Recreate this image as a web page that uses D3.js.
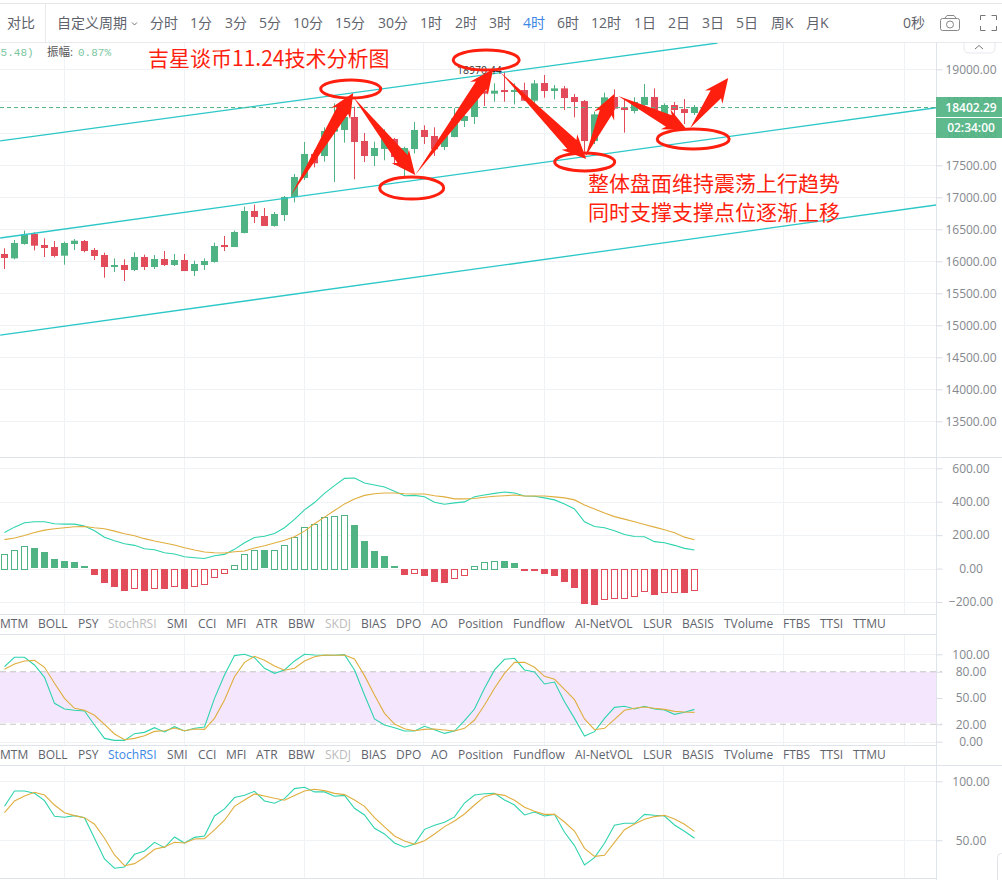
<!DOCTYPE html>
<html>
<head>
<meta charset="utf-8">
<script src="https://cdn.jsdelivr.net/npm/d3@7"></script>
<style>
  body { margin: 0; background: #fff; overflow: hidden; }
  svg { display: block; }
  text { font-family: "Open Sans", "Noto Sans CJK SC", sans-serif; }
</style>
</head>
<body>
<div id="chart"></div>
<script>
// Candles
const opens = [16114,16046,16270,16427,16255,16223,16088,16270,16317,16177,16098,15911,15942,15864,16067,15911,16036,15942,16020,15848,15942,15989,16255,16223,16442,16786,16708,16552,16723,17005,17302,17677,17645,18026,18052,18255,17880,17645,17755,17911,17630,17755,18052,17958,17786,17942,18192,18255,18666,18619,18676,18645,18676,18510,18786,18661,18702,18567,18504,17879,18286,18567,18405,18348,18442,18567,18260,18442,18379,18317];
const closes = [16052,16286,16421,16244,16208,16083,16286,16322,16161,16083,15911,15942,15864,16067,15911,16036,15942,16020,15848,15958,16005,16239,16223,16458,16786,16692,16552,16739,17005,17317,17677,17531,18036,18067,18255,17864,17645,17770,17911,17630,17770,18052,17942,17750,17958,18234,18270,18614,18619,18666,18645,18676,18510,18780,18661,18702,18551,18489,17879,18296,18562,18385,18364,18489,18567,18260,18442,18364,18317,18411];
const highs = [16203,16333,16479,16453,16359,16317,16307,16348,16333,16208,16135,16046,16031,16140,16104,16098,16161,16114,16114,16010,16046,16291,16395,16479,16854,16885,16833,16770,17020,17364,17864,17739,18093,18468,18406,18416,18005,17869,18062,17927,17791,18177,18125,18093,18000,18390,18416,18650,18833,18781,18963,18780,18791,18832,18911,18754,18739,18614,18520,18338,18635,18687,18530,18562,18770,18702,18468,18489,18535,18442];
const lows = [15880,16031,16260,16171,16067,16062,15947,16177,16140,16020,15744,15833,15692,15848,15864,15880,15927,15927,15848,15770,15864,15979,16161,16223,16437,16598,16552,16541,16630,16921,17270,17468,17557,17239,17854,17281,17552,17489,17578,17505,17333,17687,17833,17645,17739,17937,18098,18145,18427,18494,18494,18452,18504,18442,18556,18530,18364,18249,17713,17833,18260,18364,18010,18312,18364,18250,18140,18208,18145,18286];

// MACD pane
const macdHist = [89,113,137,121,97,56,44,38,14,-34,-81,-105,-129,-115,-129,-115,-117,-103,-117,-103,-91,-50,-26,24,89,113,109,113,143,190,250,268,310,315,321,258,163,103,73,14,-34,-26,-40,-75,-81,-56,-38,18,40,48,44,32,-9,-10,-28,-40,-75,-111,-212,-218,-181,-175,-175,-163,-133,-153,-139,-139,-141,-127];
const macdDif = [216,248,274,280,280,268,266,266,254,226,188,167,149,139,119,113,95,87,71,65,60,77,85,115,155,186,193,210,244,294,351,395,450,496,540,542,512,500,488,462,436,438,430,397,385,393,399,430,440,450,458,452,434,433,423,411,387,357,280,252,244,226,204,192,190,161,155,139,121,111];
const macdDea = [173,183,198,216,230,238,244,250,252,244,238,224,208,196,179,165,153,141,125,111,99,95,93,101,105,123,137,153,169,190,224,268,308,347,387,417,438,448,452,452,448,446,446,436,429,417,417,419,427,433,436,440,434,434,434,429,423,411,381,357,333,311,296,280,264,248,232,214,188,173];

// StochRSI pane
const stochK = [85.9,96.6,96.6,87.8,73.7,43.9,37.4,35.9,35.1,19.1,3.8,1.5,1.5,9.2,10.7,16,11.1,17.2,12.2,15.3,16.8,49.6,76.3,98.5,100,96.2,84,78.2,82.1,92.4,100,99.2,98.9,98.9,99.6,82.1,53.4,26,19.1,16,12.2,12.2,17.6,13.7,9.5,12.2,24,37.4,61.1,82.1,94.3,95.4,82.1,79.8,66,68.3,45.8,26.7,6.5,11.5,26.7,39.3,40.5,37.4,40.5,37.4,36.3,31.3,33.6,37];
const stochD = [82.8,88.9,92.4,93.1,85.1,66.8,49.6,38.2,35.9,30.2,19.8,8.8,2.3,3.8,6.9,11.8,12.6,15.6,12.6,14.5,14.1,26.7,47.7,74.4,90.8,97.7,93.1,86.6,81.7,84,92.4,97.3,99.2,98.9,99.2,94.7,75.6,53.4,32.4,20.2,14.9,12.6,14.1,14.5,13.4,12.2,15.3,24.8,42,61.1,78.2,90.8,90.8,85.1,74.8,71.4,59.9,48.1,26,13.7,15.3,25.6,35.9,38.2,39.7,38.2,37,34.7,34,33.6];

// Bottom pane
const lowerK = [78.8,91.8,91.8,89.8,83.6,70.3,69.5,70.9,69.2,51.7,34.2,26.3,27.4,38.1,41,48.3,43.8,52.8,47.7,52.5,53.7,70.6,76.6,86.2,88.1,91.5,83.3,81.4,85.3,93.8,94.9,91,91,87.3,88.1,77.1,71.5,60.2,55.4,47.7,44.1,46.9,59.3,62.7,65.3,69.8,81.6,88.4,89.5,89.8,84.2,79.9,71.5,74,70.6,72,56.8,45.5,29.1,35.3,47.5,62.7,64.4,64.4,72,71.2,70.6,63,57.6,51.7];
const lowerD = [73.4,83.3,87.6,90.7,88.4,79.9,73.4,70.9,69.2,63.6,51.7,37.6,28.5,30.2,35.6,42.4,44.4,48.3,47.7,51.1,51.4,58.8,67,78.8,84.2,89.3,87.6,85.6,83.9,87.9,91.8,93.2,92.1,89.8,88.7,84.2,78.8,69.2,61.3,53.7,49.4,46.6,49.7,55.4,61.6,66.4,72.3,79.9,87,89.3,88.1,83.9,78,74.6,72,72,65.5,57.9,43.2,36.4,37.3,48.3,59,63.8,67.8,70.1,71.2,68.1,63.6,57.6];

// Tick values
const priceTicks = [19000,18500,18000,17500,17000,16500,16000,15500,15000,14500,14000,13500];
const macdTicks = [600,400,200,0,-200];
const stochTicks = [100,80,50,20,0];
const lowerTicks = [100,50];
const timeGridIndex = [6,18,30,42,54,66,78,90];

// Labels
const periodLabels = ["分时","1分","3分","5分","10分","15分","30分","1时","2时","3时","4时","6时","12时","1日","2日","3日","5日","周K","月K"];
const tabLabels = ["MTM","BOLL","PSY","StochRSI","SMI","CCI","MFI","ATR","BBW","SKDJ","BIAS","DPO","AO","Position","Fundflow","AI-NetVOL","LSUR","BASIS","TVolume","FTBS","TTSI","TTMU"];
const lastPrice = 18402.29;
const countdown = "02:34:00";

// Hand drawn notes, given in candle index and price
const channelStart = [[-0.43,17880],[-0.43,16364],[-0.43,14848]];
const channelEnd = [[71.3,19411],[93.17,18400],[93.17,16880]];
const ringCentre = [[34.62,18692],[40.72,17145],[48.17,19145],[58.02,17552],[68.87,17911]];
const ringRadius = [[3,140],[3.2,172],[3.3,156],[3,140],[3.6,156]];
const arrowTail = [[28.67,17036],[34.87,18567],[41.07,17348],[49.57,18958],[58.07,17630],[61.37,18583],[68.57,18083]];
const arrowTip = [[34.87,18630],[41.07,17348],[48.87,19005],[58.17,17598],[60.97,18614],[68.27,18052],[72.37,18864]];

const width = 1002, height = 880, axisX = 936;
const green = "#50b383", red = "#e24b5a", teal = "#2fd3ae", gold = "#dfae3f", note = "#ff1f0f";
const gridColor = "#f0f3f5", borderColor = "#dfe3ec", labelColor = "#5f636c";

const svg = d3.select("#chart").append("svg").attr("width", width).attr("height", height);

// Scales
const x = d3.scaleLinear().domain([0, 93.15]).range([4.5, 936]);
const yPrice = d3.scaleLinear().domain([13000, 19000]).range([453.3, 69.3]);
const yMacd = d3.scaleLinear().domain([-200, 600]).range([602, 468.3]);
const yStoch = d3.scaleLinear().domain([0, 100]).range([741.7, 654.3]);
const yLower = d3.scaleLinear().domain([50, 100]).range([840.3, 781.3]);

const panes = [
  { y: yPrice, ticks: priceTicks, top: 43, bottom: 457 },
  { y: yMacd, ticks: macdTicks, top: 458, bottom: 614 },
  { y: yStoch, ticks: stochTicks, top: 635, bottom: 745 },
  { y: yLower, ticks: lowerTicks, top: 766, bottom: 878 }
];

// Grid for every pane
panes.forEach(function(pane) {
  const g = svg.append("g");
  g.selectAll("line.v").data(timeGridIndex).join("line")
    .attr("x1", d => Math.round(x(d)) - 0.5).attr("x2", d => Math.round(x(d)) - 0.5)
    .attr("y1", pane.top).attr("y2", pane.bottom)
    .attr("stroke", gridColor);
  g.selectAll("line.h").data(pane.ticks.filter(d => pane.y !== yStoch || (d !== 80 && d !== 20))).join("line")
    .attr("x1", 0).attr("x2", axisX)
    .attr("y1", d => Math.round(pane.y(d)) + 0.5).attr("y2", d => Math.round(pane.y(d)) + 0.5)
    .attr("stroke", gridColor);
});

// StochRSI band sits under everything in that pane
svg.append("rect")
  .attr("x", 0).attr("width", axisX)
  .attr("y", yStoch(80)).attr("height", yStoch(21.5) - yStoch(80))
  .attr("fill", "#f3e6fd").attr("fill-opacity", 0.95);
svg.selectAll("line.band").data([80, 20]).join("line")
  .attr("x1", 0).attr("x2", axisX + 6)
  .attr("y1", d => yStoch(d)).attr("y2", d => yStoch(d))
  .attr("stroke", "#c4c4c4").attr("stroke-dasharray", "6,4");

// Candles
const candles = svg.append("g");
opens.forEach(function(open, i) {
  const close = closes[i];
  const color = close >= open ? green : red;
  candles.append("rect")
    .attr("x", Math.floor(x(i)) ).attr("width", 1)
    .attr("y", yPrice(highs[i])).attr("height", yPrice(lows[i]) - yPrice(highs[i]))
    .attr("fill", color);
  candles.append("rect")
    .attr("x", Math.floor(x(i)) - 3).attr("width", 7)
    .attr("y", yPrice(Math.max(open, close)))
    .attr("height", Math.max(1, Math.abs(yPrice(open) - yPrice(close))))
    .attr("fill", color);
});

// Clip for the channel, it runs under the toolbar otherwise
svg.append("clipPath").attr("id", "mainClip").append("rect")
  .attr("x", 0).attr("y", 43).attr("width", axisX).attr("height", 414);

svg.append("g").attr("clip-path", "url(#mainClip)")
  .selectAll("line").data(channelStart).join("line")
  .attr("x1", d => x(d[0])).attr("y1", d => yPrice(d[1]))
  .attr("x2", (d, i) => x(channelEnd[i][0])).attr("y2", (d, i) => yPrice(channelEnd[i][1]))
  .attr("stroke", "#2cc7c7").attr("stroke-width", 1.3);

// Last price line
svg.append("line")
  .attr("x1", 0).attr("x2", axisX)
  .attr("y1", yPrice(lastPrice)).attr("y2", yPrice(lastPrice))
  .attr("stroke", green).attr("stroke-dasharray", "4,3");

svg.append("text").attr("x", 457).attr("y", 74)
  .attr("font-size", 10.5).attr("fill", "#333").text("18970.44");

// MACD bars, hollow while the value rises, solid while it falls
macdHist.forEach(function(v, i) {
  const color = v >= 0 ? green : red;
  const hollow = i === 0 || v >= macdHist[i - 1];
  const y0 = yMacd(0), y1 = yMacd(v);
  const top = Math.round(Math.min(y0, y1)), h = Math.max(1, Math.round(Math.abs(y1 - y0)));
  if (hollow) {
    svg.append("rect")
      .attr("x", Math.floor(x(i)) - 2.5).attr("width", 6)
      .attr("y", top + 0.5).attr("height", h)
      .attr("fill", "#fff").attr("stroke", color);
  } else {
    svg.append("rect")
      .attr("x", Math.floor(x(i)) - 3).attr("width", 7)
      .attr("y", top).attr("height", h)
      .attr("fill", color);
  }
});

// Indicator lines
function drawLine(values, y, color) {
  const line = d3.line().x((d, i) => x(i)).y(d => y(d));
  svg.append("path").attr("d", line(values))
    .attr("fill", "none").attr("stroke", color).attr("stroke-width", 1.1);
}
drawLine(macdDif, yMacd, teal);
drawLine(macdDea, yMacd, gold);
drawLine(stochK, yStoch, teal);
drawLine(stochD, yStoch, gold);
drawLine(lowerK, yLower, teal);
drawLine(lowerD, yLower, gold);

// Pane borders
[457.5, 614.5, 634.5, 745.5, 765.5, 878.5].forEach(function(yy) {
  svg.append("line").attr("x1", 0).attr("x2", axisX).attr("y1", yy).attr("y2", yy).attr("stroke", borderColor);
});
svg.append("line").attr("x1", axisX + 0.5).attr("x2", axisX + 0.5).attr("y1", 43).attr("y2", height).attr("stroke", borderColor);
svg.append("line").attr("x1", axisX).attr("x2", width).attr("y1", 457.5).attr("y2", 457.5).attr("stroke", borderColor);
svg.append("line").attr("x1", axisX).attr("x2", width).attr("y1", 765.5).attr("y2", 765.5).attr("stroke", borderColor);

// Right axes
panes.forEach(function(pane) {
  const axis = d3.axisRight(pane.y).tickValues(pane.ticks).tickSize(6).tickFormat(d3.format(".2f"));
  const g = svg.append("g").attr("transform", "translate(" + (axisX + 0.5) + ",0)").call(axis);
  g.select(".domain").remove();
  g.selectAll("line").attr("stroke", "#d8dce5");
  g.selectAll("text")
    .attr("x", 34.5).attr("text-anchor", "middle")
    .attr("font-size", 12).attr("fill", "#85888e")
    .style("font-family", '"Open Sans", sans-serif');
});

// Price tag and countdown
svg.append("rect").attr("x", axisX).attr("y", 97).attr("width", width - axisX).attr("height", 20)
  .attr("fill", green).attr("fill-opacity", 0.92);
svg.append("rect").attr("x", axisX).attr("y", 118).attr("width", width - axisX).attr("height", 20)
  .attr("fill", green).attr("fill-opacity", 0.92);
[[d3.format(".2f")(lastPrice), 111.5], [countdown, 132]].forEach(function(d) {
  svg.append("text").attr("x", axisX + 35).attr("y", d[1]).attr("text-anchor", "middle")
    .attr("font-size", 12).attr("font-weight", 600).attr("fill", "#fff").text(d[0]);
});

// Collapse button above the axis
svg.append("path").attr("d", "M964,43 v5 q0,5 5,5 h21 q5,0 5,-5 v-5").attr("fill", "#fff").attr("stroke", "#e6e8ee");
svg.append("path").attr("d", "M975,49 l4,-3.5 l4,3.5").attr("fill", "none").attr("stroke", "#777");

// Tabs between the panes
const tabX = [0,38,78,108,167,198,226,256,288,325,361,396,431,458,513,575,643,682,724,783,820,853];
[{ y: 628, active: false }, { y: 759, active: true }].forEach(function(row) {
  svg.selectAll(null).data(tabLabels).join("text")
    .attr("x", (d, i) => tabX[i]).attr("y", row.y)
    .attr("font-size", 12)
    .attr("fill", function(d) {
      if (d === "SKDJ") return "#bcbcbc";
      if (d === "StochRSI") return row.active ? "#3d87e6" : "#bcbcbc";
      return labelColor;
    })
    .text(d => d);
});

// Toolbar
svg.append("rect").attr("x", 0).attr("y", 0).attr("width", width).attr("height", 43).attr("fill", "#fff");
svg.append("line").attr("x1", 0).attr("x2", width).attr("y1", 3.5).attr("y2", 3.5).attr("stroke", "#e8e8e8");
svg.append("line").attr("x1", 0).attr("x2", width).attr("y1", 42.5).attr("y2", 42.5).attr("stroke", "#e8eaee");
svg.append("line").attr("x1", 45.5).attr("x2", 45.5).attr("y1", 4).attr("y2", 42).attr("stroke", "#e8eaee");

function toolText(label, px, color) {
  svg.append("text").attr("x", px).attr("y", 28).attr("font-size", 14)
    .attr("fill", color || labelColor).text(label);
}
toolText("对比", 7);
toolText("自定义周期", 57);
svg.append("path").attr("d", "M132,22.5 l2.5,2.5 l2.5,-2.5").attr("fill", "none").attr("stroke", "#777");
const periodX = [150,190,225,259,293,335,378,420,455,489,523,557,591,634,668,702,736,771,806];
periodLabels.forEach(function(label, i) {
  toolText(label, periodX[i], label === "4时" ? "#3d87e6" : null);
});
toolText("0秒", 903);

// Camera and fullscreen icons
svg.append("rect").attr("x", 940.5).attr("y", 18.5).attr("width", 19).attr("height", 12).attr("rx", 2)
  .attr("fill", "none").attr("stroke", "#888");
svg.append("path").attr("d", "M945,18 l2,-2.5 h7 l2,2.5").attr("fill", "none").attr("stroke", "#888");
svg.append("circle").attr("cx", 950).attr("cy", 24.5).attr("r", 3.5).attr("fill", "none").attr("stroke", "#888");
svg.append("path").attr("d", "M980.5,20 v-4.5 h5 M991.5,15.5 h5 v4.5 M996.5,26 v4.5 h-5 M985.5,30.5 h-5 v-4.5")
  .attr("fill", "none").attr("stroke", "#777");

// Legend fragment at the top left
svg.append("text").attr("x", -6).attr("y", 56).attr("font-size", 11).attr("fill", "#7cc6a2")
  .style("font-family", '"Liberation Mono", monospace').text("55.48)");
svg.append("text").attr("x", 47).attr("y", 56).attr("font-size", 11.5).attr("fill", "#555").text("振幅:");
svg.append("text").attr("x", 78).attr("y", 56).attr("font-size", 11).attr("fill", "#7cc6a2")
  .style("font-family", '"Liberation Mono", monospace').text("0.87%");

// Red rings
ringCentre.forEach(function(c, i) {
  const rx = x(ringRadius[i][0]) - x(0);
  const ry = yPrice(0) - yPrice(ringRadius[i][1]);
  svg.append("ellipse")
    .attr("cx", x(c[0])).attr("cy", yPrice(c[1]))
    .attr("rx", rx).attr("ry", ry)
    .attr("fill", "none").attr("stroke", note).attr("stroke-width", 3);
});

// Red arrows, thin at the tail and wide at the head
function arrowPoints(tx, ty, hx, hy) {
  const len = Math.hypot(hx - tx, hy - ty);
  const ux = (hx - tx) / len, uy = (hy - ty) / len;
  const nx = -uy, ny = ux;
  const head = Math.min(24, len * 0.4);
  const bx = hx - ux * head, by = hy - uy * head;
  const jx = hx - ux * head * 0.85, jy = hy - uy * head * 0.85;
  return [
    [tx, ty],
    [jx + nx * 6.5, jy + ny * 6.5],
    [bx + nx * 11, by + ny * 11],
    [hx, hy],
    [bx - nx * 11, by - ny * 11],
    [jx - nx * 6.5, jy - ny * 6.5]
  ].join(" ");
}
arrowTail.forEach(function(t, i) {
  const h = arrowTip[i];
  svg.append("polygon")
    .attr("points", arrowPoints(x(t[0]), yPrice(t[1]), x(h[0]), yPrice(h[1])))
    .attr("fill", note);
});

// Red notes
function noteText(label, px, py, size) {
  svg.append("text").attr("x", px).attr("y", py).attr("font-size", size)
    .attr("fill", note)
    .style("font-family", '"Noto Sans CJK SC", sans-serif')
    .text(label);
}
noteText("吉星谈币11.24技术分析图", 148, 66, 21);
noteText("整体盘面维持震荡上行趋势", 588, 191, 21);
noteText("同时支撑支撑点位逐渐上移", 588, 220, 21);

// Edge of a floating button at the bottom right
svg.append("rect").attr("x", 997.5).attr("y", 853.5).attr("width", 12).attr("height", 30).attr("rx", 4)
  .attr("fill", "#fff").attr("stroke", "#e0e2e8");
</script>
</body>
</html>
